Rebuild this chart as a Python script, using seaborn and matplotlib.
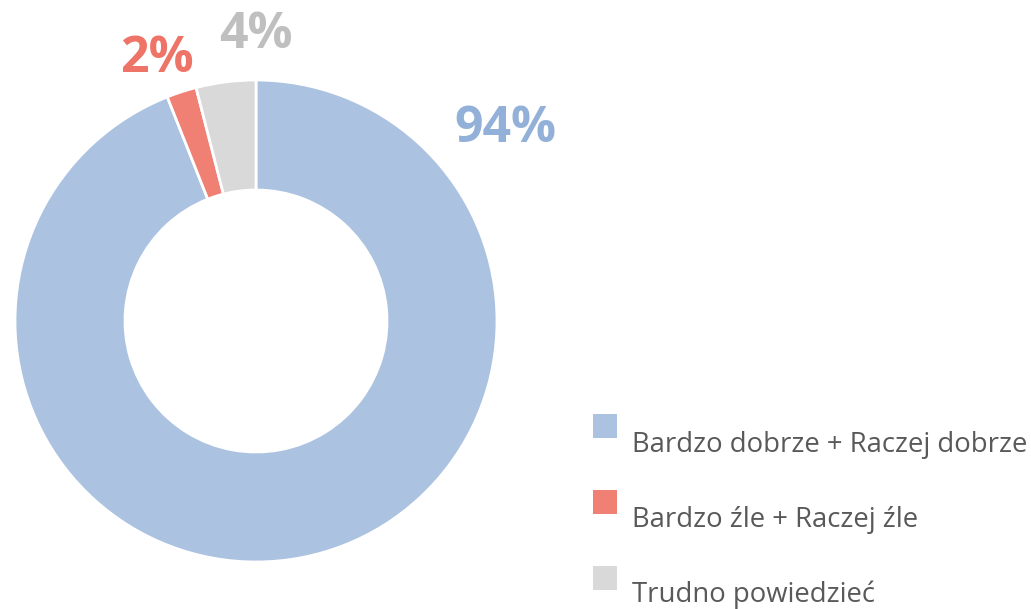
import matplotlib.pyplot as plt
import seaborn as sns
from matplotlib.patches import Rectangle

categories = ["Bardzo dobrze + Raczej dobrze", "Bardzo źle + Raczej źle", "Trudno powiedzieć"]
shares = [94, 2, 4]
pct_labels = ["94%", "2%", "4%"]
colors = ["#ABC2E1", "#F07F74", "#D9D9D9"]
label_colors = ["#93B1D8", "#EE7468", "#BFBFBF"]

sns.set_theme(style="white")
plt.rcParams["font.family"] = ["Open Sans", "DejaVu Sans"]

W, H = 1031, 609
fig = plt.figure(figsize=(W / 100, H / 100), dpi=100)

# donut: centre (256, 321) px, outer radius 241 px
cx, cy, r = 256, 321, 241
ax = fig.add_axes([(cx - r) / W, (H - cy - r) / H, 2 * r / W, 2 * r / H])
ax.pie(shares, colors=colors, startangle=90, counterclock=False, radius=1,
       wedgeprops=dict(width=1 - 131 / 241, edgecolor="white", linewidth=2))
ax.set_xlim(-1, 1)
ax.set_ylim(-1, 1)
ax.axis("off")

# percentage labels (pixel centre x, baseline y)
label_pos = [(505, 142), (157, 72), (256, 48)]
for (px, py), txt, col in zip(label_pos, pct_labels, label_colors):
    fig.text(px / W, 1 - py / H, txt, color=col, fontsize=36, fontweight="bold",
             ha="center", va="baseline")

# legend drawn by hand, Office style (text sits below the swatch)
for i, (cat, col) in enumerate(zip(categories, colors)):
    top = 414 + i * 76
    fig.patches.append(Rectangle((593 / W, 1 - (top + 24) / H), 24 / W, 24 / H,
                                 transform=fig.transFigure, facecolor=col,
                                 edgecolor="none"))
    fig.text(632 / W, 1 - (452 + i * 75) / H, cat, color="#595959", fontsize=19.8,
             ha="left", va="baseline")

fig.savefig("out.png", dpi=100)
